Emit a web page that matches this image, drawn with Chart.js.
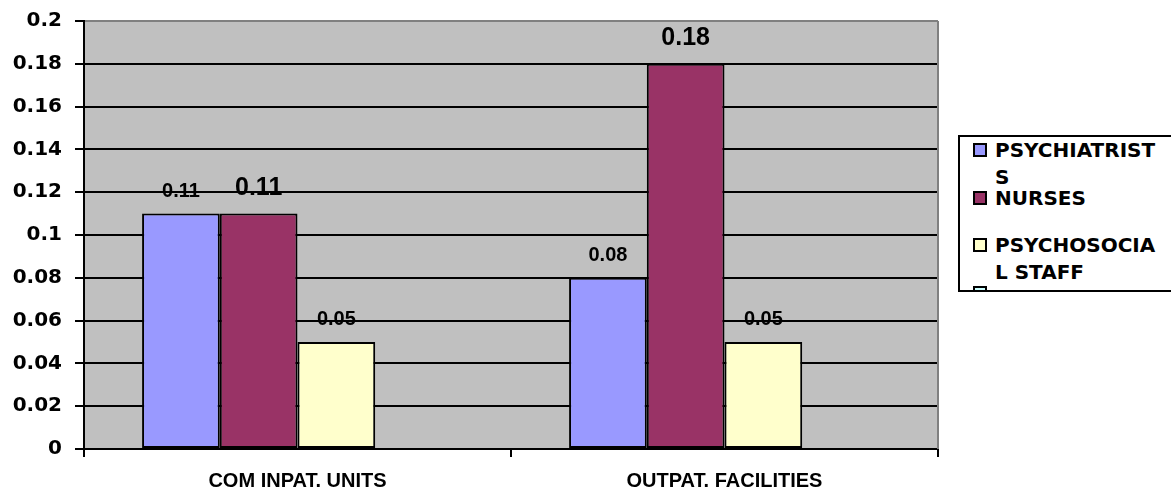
<!DOCTYPE html>
<html>
<head>
<meta charset="utf-8">
<script src="https://cdn.jsdelivr.net/npm/chart.js@4.4.1/dist/chart.umd.min.js"></script>
<style>
    html, body { margin: 0; padding: 0; background: #fff; }
    #wrap { position: relative; width: 1171px; height: 490px; overflow: hidden; }
    #legend {
        position: absolute; left: 958px; top: 135px; width: 260px; height: 153px;
        border: 2px solid #000; background: #fff; overflow: hidden;
        font-family: "DejaVu Sans", sans-serif; font-weight: bold; font-size: 20px; color: #000;
    }
    .item { position: absolute; left: 0; }
    .box { position: absolute; left: 13px; top: 6px; width: 14px; height: 14px; box-sizing: border-box; border: 2px solid #000; }
    .txt { position: absolute; left: 35px; top: 0; width: 168px; line-height: 27px; word-break: break-all; }
</style>
</head>
<body>
<div id="wrap">
    <canvas id="chart" width="1171" height="490"></canvas>
    <div id="legend"></div>
</div>
<script>
// --- data ---
const categories = ['COM INPAT. UNITS', 'OUTPAT. FACILITIES'];
const seriesNames = ['PSYCHIATRISTS', 'NURSES', 'PSYCHOSOCIAL STAFF', ''];
const psychiatrists = [0.11, 0.08];
const nurses = [0.11, 0.18];
const psychosocialStaff = [0.05, 0.05];
const otherStaff = [null, null];
const yMin = 0;
const yMax = 0.2;
const yStep = 0.02;

// --- styles ---
const seriesColors = ['#9999FF', '#993366', '#FFFFCC', '#CCFFFF'];
const labelFonts = ['bold 20px "Liberation Sans"', 'bold 25px "Liberation Sans"', 'bold 20px "Liberation Sans"', 'bold 20px "Liberation Sans"'];

const seriesValues = [psychiatrists, nurses, psychosocialStaff, otherStaff];

// plot background + grey frame on the right
const plotFrame = {
    id: 'plotFrame',
    beforeDraw(chart) {
        const { ctx, chartArea: a } = chart;
        ctx.save();
        ctx.fillStyle = '#C0C0C0';
        ctx.fillRect(a.left, a.top, a.right - a.left, a.bottom - a.top);
        ctx.restore();
    },
    beforeDatasetsDraw(chart) {
        const { ctx, chartArea: a } = chart;
        ctx.save();
        ctx.strokeStyle = '#808080';
        ctx.lineWidth = 2;
        ctx.beginPath();
        ctx.moveTo(a.right, a.top);
        ctx.lineTo(a.right, a.bottom);
        ctx.stroke();
        ctx.restore();
    }
};

// value labels above bars
const valueLabels = {
    id: 'valueLabels',
    afterDatasetsDraw(chart) {
        const ctx = chart.ctx;
        ctx.save();
        ctx.fillStyle = '#000';
        ctx.textAlign = 'center';
        ctx.textBaseline = 'alphabetic';
        chart.data.datasets.forEach((ds, i) => {
            const meta = chart.getDatasetMeta(i);
            ctx.font = labelFonts[i];
            const gap = i === 1 ? 19 : 17;
            meta.data.forEach((bar, j) => {
                const v = ds.data[j];
                if (v === null || v === undefined) return;
                ctx.fillText(v.toFixed(2), bar.x, bar.y - gap);
            });
        });
        ctx.restore();
    }
};

const chart = new Chart(document.getElementById('chart').getContext('2d'), {
    type: 'bar',
    data: {
        labels: categories,
        datasets: seriesValues.map((vals, i) => ({
            label: seriesNames[i],
            data: vals,
            backgroundColor: seriesColors[i],
            borderColor: '#000',
            borderWidth: 2,
            borderSkipped: false,
            categoryPercentage: 0.728,
            barPercentage: 1.0
        }))
    },
    options: {
        responsive: false,
        animation: false,
        devicePixelRatio: 1,
        layout: { padding: { top: 21, right: 233, left: 0, bottom: 0 } },
        plugins: { legend: { display: false }, tooltip: { enabled: false } },
        scales: {
            x: {
                afterFit: s => { s.height = 41; },
                grid: { display: true, drawOnChartArea: false, drawTicks: true, tickLength: 8, color: '#000', lineWidth: 2 },
                border: { display: true, color: '#000', width: 2 },
                ticks: {
                    color: '#000', padding: 12,
                    font: { family: 'Liberation Sans', weight: 'bold', size: 20 }
                }
            },
            y: {
                min: yMin, max: yMax,
                // keep the plot top fixed (tick labels would otherwise push it down)
                afterFit: s => { s.width = 84; s.paddingTop = 0; s.paddingBottom = 0; },
                grid: {
                    color: c => (c.tick && c.tick.value >= yMax - 1e-9) ? '#808080' : '#000',
                    tickColor: '#000', lineWidth: 2, tickLength: 9
                },
                border: { display: true, color: '#000', width: 2 },
                ticks: {
                    stepSize: yStep, color: '#000', padding: 13,
                    font: { family: 'DejaVu Sans', weight: 'bold', size: 20 },
                    callback: v => String(+v.toFixed(2))
                }
            }
        }
    },
    plugins: [plotFrame, valueLabels]
});

// --- legend (html, clipped like the original) ---
const legendEl = document.getElementById('legend');
chart.data.datasets.forEach((ds, i) => {
    const item = document.createElement('div');
    item.className = 'item';
    item.style.top = Math.round(i * 47.7) + 'px';
    item.innerHTML = `<div class="box" style="background:${ds.backgroundColor}"></div><div class="txt">${ds.label}</div>`;
    legendEl.appendChild(item);
});
</script>
</body>
</html>
